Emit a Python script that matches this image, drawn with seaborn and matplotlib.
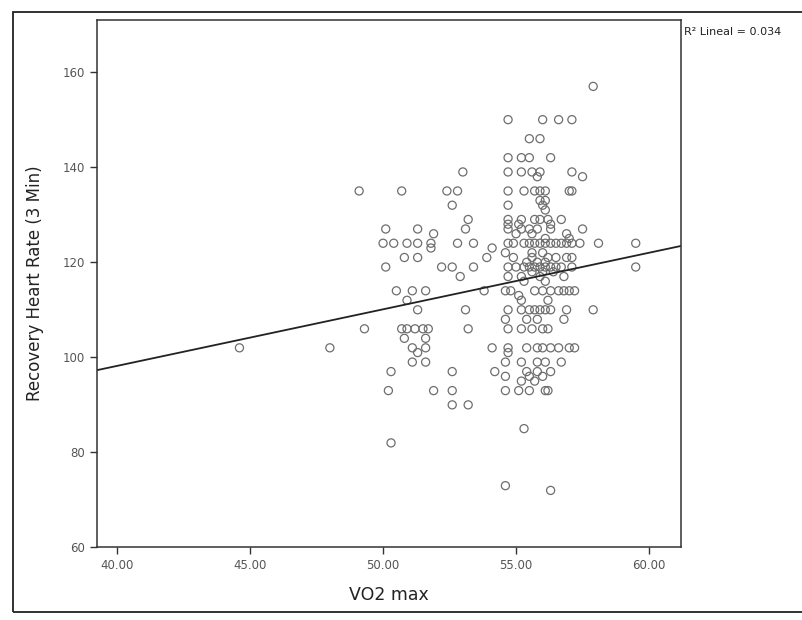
import numpy as np
import pandas as pd
import seaborn as sns
import matplotlib.pyplot as plt
from matplotlib.patches import Rectangle

# Data (one line per heart-rate level)
vo2_max = [
    57.9,
    54.7, 56.0, 56.6, 57.1,
    55.5, 55.9,
    54.7, 55.2, 55.5, 56.3,
    53.0, 54.7, 55.2, 55.6, 55.9, 57.1,
    55.8, 57.5,
    49.1, 50.7, 52.4, 52.8, 54.7, 55.3, 55.7, 55.9, 56.1, 57.0, 57.1,
    55.9, 56.1,
    52.6, 54.7, 56.0,
    56.1,
    53.2, 54.7, 55.2, 55.7, 55.9, 56.2, 56.7,
    54.7, 55.1, 56.3,
    50.1, 51.3, 53.1, 54.7, 55.2, 55.5, 55.8, 56.3, 57.5,
    51.9, 55.0, 55.6, 56.9,
    56.1, 57.0,
    50.0, 50.4, 50.9, 51.3, 51.8, 52.8, 53.4, 54.7, 54.9, 55.3, 55.5,
    55.7, 55.9, 56.1, 56.3, 56.5, 56.7, 56.9, 57.1, 57.4, 58.1, 59.5,
    51.8, 54.1,
    54.6, 55.6, 56.0,
    50.8, 51.3, 53.9, 54.9, 55.6, 56.2, 56.5, 56.9, 57.1,
    55.4, 55.8, 56.1,
    50.1, 52.2, 52.6, 53.4, 54.7, 55.0, 55.3, 55.5, 55.7, 55.9, 56.1,
    56.3, 56.5, 56.7, 57.1, 59.5,
    55.6, 56.0, 56.4,
    52.9, 54.7, 55.2, 55.9, 56.8,
    55.3, 56.1,
    50.5, 51.1, 51.6, 53.8, 54.6, 54.8, 55.7, 56.0, 56.3, 56.6, 56.8, 57.0, 57.2,
    55.1,
    50.9, 55.2, 56.2,
    51.3, 53.1, 54.7, 55.2, 55.5, 55.7, 55.9, 56.1, 56.3, 56.9, 57.9,
    54.6, 55.4, 55.8, 56.8,
    49.3, 50.7, 50.9, 51.2, 51.5, 51.7, 53.2, 54.7, 55.2, 55.6, 56.0, 56.2,
    50.8, 51.6,
    44.6, 48.0, 51.1, 51.6, 54.1, 54.7, 55.4, 55.8, 56.0, 56.3, 56.6, 57.0, 57.2,
    51.3, 54.7,
    51.1, 51.6, 54.6, 55.2, 55.8, 56.1, 56.7,
    50.3, 52.6, 54.2, 55.4, 55.8, 56.3,
    54.6, 55.5, 56.0,
    55.2, 55.7,
    50.2, 51.9, 52.6, 54.6, 55.1, 55.5, 56.1, 56.2,
    52.6, 53.2,
    55.3,
    50.3,
    54.6,
    56.3,
]
recovery_hr = [
    157,
    150, 150, 150, 150,
    146, 146,
    142, 142, 142, 142,
    139, 139, 139, 139, 139, 139,
    138, 138,
    135, 135, 135, 135, 135, 135, 135, 135, 135, 135, 135,
    133, 133,
    132, 132, 132,
    131,
    129, 129, 129, 129, 129, 129, 129,
    128, 128, 128,
    127, 127, 127, 127, 127, 127, 127, 127, 127,
    126, 126, 126, 126,
    125, 125,
    124, 124, 124, 124, 124, 124, 124, 124, 124, 124, 124,
    124, 124, 124, 124, 124, 124, 124, 124, 124, 124, 124,
    123, 123,
    122, 122, 122,
    121, 121, 121, 121, 121, 121, 121, 121, 121,
    120, 120, 120,
    119, 119, 119, 119, 119, 119, 119, 119, 119, 119, 119,
    119, 119, 119, 119, 119,
    118, 118, 118,
    117, 117, 117, 117, 117,
    116, 116,
    114, 114, 114, 114, 114, 114, 114, 114, 114, 114, 114, 114, 114,
    113,
    112, 112, 112,
    110, 110, 110, 110, 110, 110, 110, 110, 110, 110, 110,
    108, 108, 108, 108,
    106, 106, 106, 106, 106, 106, 106, 106, 106, 106, 106, 106,
    104, 104,
    102, 102, 102, 102, 102, 102, 102, 102, 102, 102, 102, 102, 102,
    101, 101,
    99, 99, 99, 99, 99, 99, 99,
    97, 97, 97, 97, 97, 97,
    96, 96, 96,
    95, 95,
    93, 93, 93, 93, 93, 93, 93, 93,
    90, 90,
    85,
    82,
    73,
    72,
]

# Linear fit reported on the chart
fit_intercept = 50.6
fit_slope = 1.19
r2_label = "R² Lineal = 0.034"

x_ticks = [40, 45, 50, 55, 60]
y_ticks = [60, 80, 100, 120, 140, 160]

df = pd.DataFrame({"VO2 max": vo2_max, "Recovery Heart Rate (3 Min)": recovery_hr})

sns.set_style("white")
plt.rcParams["font.family"] = ["DejaVu Sans"]

fig = plt.figure(figsize=(8.03, 6.2), dpi=100)
ax = fig.add_axes([0.121, 0.117, 0.727, 0.851])

sns.scatterplot(data=df, x="VO2 max", y="Recovery Heart Rate (3 Min)", ax=ax,
                marker="o", s=34, facecolor="none", edgecolor="#6e6e6e",
                linewidth=0.9, legend=False)

ax.axline((0, fit_intercept), slope=fit_slope, color="#222222", lw=1.3)

ax.set_xlim(39.25, 61.2)
ax.set_ylim(60, 171)
ax.set_xticks(x_ticks)
ax.set_xticklabels([f"{t:.2f}" for t in x_ticks])
ax.set_yticks(y_ticks)

ax.tick_params(axis="both", direction="out", length=5, width=1,
               labelsize=8.5, labelcolor="#555555", color="#333333",
               bottom=True, left=True, top=False, right=False)
for s in ax.spines.values():
    s.set_color("#333333")
    s.set_linewidth(1.1)

ax.set_xlabel("VO2 max", fontsize=12.5, color="#222222", labelpad=10)
ax.set_ylabel("Recovery Heart Rate (3 Min)", fontsize=12, color="#222222", labelpad=14)

fig.text(0.852, 0.948, r2_label, fontsize=8, color="#222222", ha="left", va="center")

# outer frame of the chart
fig.patches.append(Rectangle((0.016, 0.013), 1.2, 0.967, transform=fig.transFigure,
                             fill=False, edgecolor="#222222", linewidth=1.3))

fig.savefig("out.png", dpi=100)
